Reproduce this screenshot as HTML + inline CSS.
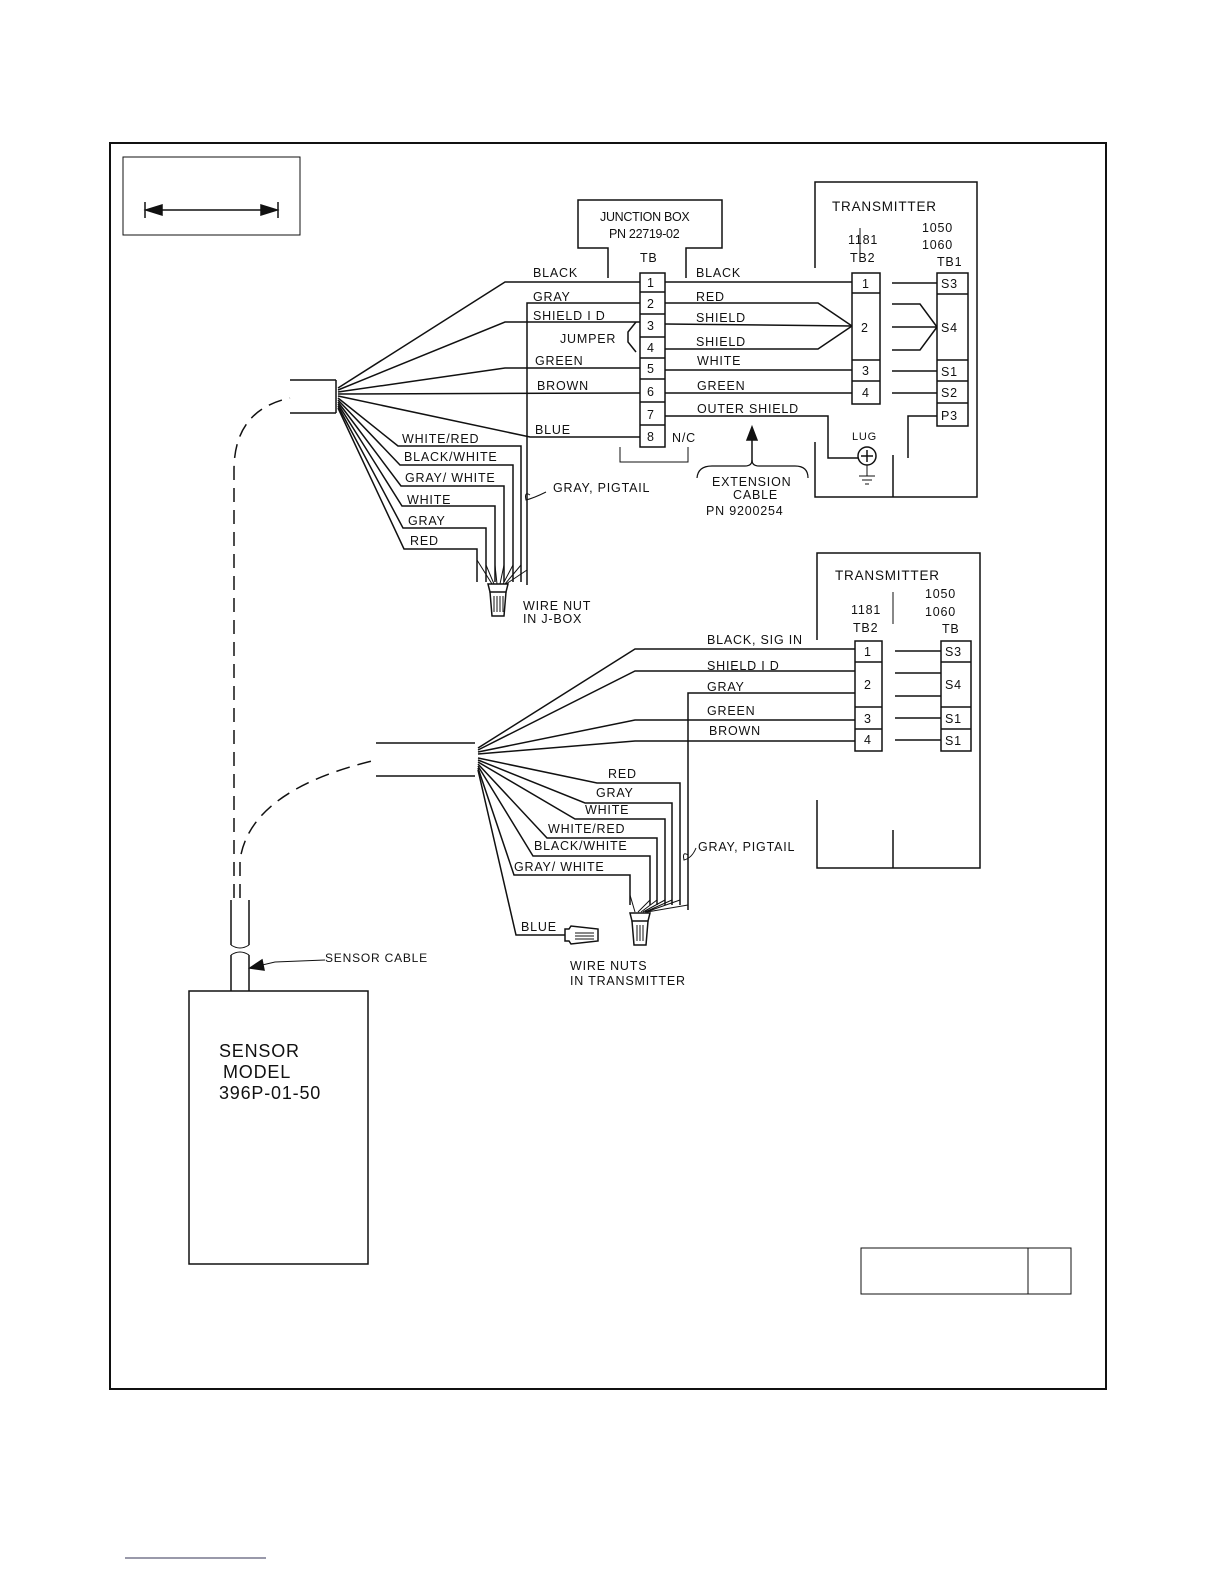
<!DOCTYPE html>
<html><head><meta charset="utf-8"><style>
html,body{margin:0;padding:0;background:#fff}
svg{display:block}
text{font-family:"Liberation Sans",sans-serif;font-size:12.5px;fill:#111;letter-spacing:0.8px}
</style></head><body>
<svg width="1224" height="1584" viewBox="0 0 1224 1584" xmlns="http://www.w3.org/2000/svg">
<g fill="none" stroke="#111" stroke-width="1.5">
<rect x="110" y="143" width="996" height="1246" stroke-width="2"/>
<rect x="123" y="157" width="177" height="78" stroke-width="1"/>
<line x1="150" y1="210" x2="273" y2="210"/><line x1="145" y1="202" x2="145" y2="218"/><line x1="278" y1="202" x2="278" y2="218"/>
<path d="M146 210 L162 205 L162 215 Z M277 210 L261 205 L261 215 Z" fill="#111"/>
<rect x="861" y="1248" width="210" height="46" stroke-width="1"/><line x1="1028" y1="1248" x2="1028" y2="1294" stroke-width="1"/>
<line x1="125" y1="1558" x2="266" y2="1558" stroke="#335" stroke-width="1"/>
<!-- sensor -->
<rect x="189" y="991" width="179" height="273"/>
<line x1="231" y1="955" x2="231" y2="991"/><line x1="249" y1="955" x2="249" y2="991"/>
<line x1="231" y1="900" x2="231" y2="945"/><line x1="249" y1="900" x2="249" y2="945"/>
<path d="M231 945 q9 6 18 0 M231 955 q9 -6 18 0" stroke-width="1"/>
<path d="M325 960 L275 962 L258 966" stroke-width="1"/>
<path d="M250 968 L262 960 L264 970 Z" fill="#111"/>
<path d="M234 898 L234 470 Q234 410 290 398" stroke-dasharray="14 8"/>
<path d="M240 898 L240 860 Q250 790 376 760" stroke-dasharray="14 8"/>
<!-- top cable -->
<line x1="290" y1="380" x2="336" y2="380"/><line x1="290" y1="413" x2="336" y2="413"/>
<line x1="336" y1="380" x2="336" y2="413"/>
<!-- left wires top -->
<polyline points="338,388 505,282 640,282"/>
<polyline points="338,390 505,322 640,322"/>
<polyline points="338,392 505,368 640,368"/>
<polyline points="338,394 640,393"/>
<polyline points="338,396 530,437 640,437"/>
<polyline points="527,585 527,303 640,303"/>
<polyline points="338,398 398,446 521,446 521,582"/>
<polyline points="338,400 400,465 513,465 513,582"/>
<polyline points="338,402 401,486 504,486 504,582"/>
<polyline points="338,404 402,506 495,506 495,582"/>
<polyline points="338,406 403,528 486,528 486,582"/>
<polyline points="338,408 404,549 477,549 477,582"/>
<path d="M477 560 L492 584 M486 565 L494 584 M495 565 L497 584 M504 565 L500 584 M513 565 L503 584 M521 565 L505 584 M527 570 L506 584" stroke-width="1"/>
<path d="M488 584 L508 584 L506 592 L490 592 Z"/>
<path d="M490 592 L492 616 L504 616 L506 592"/>
<path d="M494 596 V612 M497 596 V612 M500 596 V612 M503 596 V612" stroke-width="1"/>
<path d="M530 495 q-6 -4 -4 5 q8 -2 20 -8" stroke-width="1"/>
<!-- junction box -->
<polyline points="608,278 608,248 578,248 578,200 722,200 722,248 686,248 686,278"/>
<rect x="640" y="273" width="25" height="174"/>
<path d="M640 292H665M640 314H665M640 337H665M640 358H665M640 379H665M640 402H665M640 425H665"/>
<path d="M636 322 L628 332 L628 342 L636 352" />
<polyline points="620,447 620,462 688,462 688,447" stroke-width="1"/>
<!-- right of JB -->
<line x1="665" y1="282" x2="852" y2="282"/>
<polyline points="665,303 818,303 852,326"/>
<line x1="665" y1="324" x2="852" y2="326"/>
<polyline points="665,349 818,349 852,326"/>
<line x1="665" y1="370" x2="852" y2="370"/>
<line x1="665" y1="393" x2="852" y2="393"/>
<polyline points="665,416 828,416 828,458 858,458"/>
<line x1="752" y1="462" x2="752" y2="435"/>
<path d="M747 440 L752 427 L757 440 Z" fill="#111"/>
<path d="M697 478 Q698 466 712 466 L745 466 Q752 466 752 460 Q752 466 759 466 L795 466 Q808 466 808 478" stroke-width="1.2"/>
<!-- transmitter 1 -->
<polyline points="815,268 815,182 977,182 977,497 815,497 815,442"/>
<line x1="893" y1="455" x2="893" y2="497"/>
<line x1="860" y1="228" x2="860" y2="260" stroke-width="1"/>
<rect x="852" y="273" width="28" height="131"/>
<path d="M852 293H880M852 360H880M852 381H880"/>
<rect x="937" y="273" width="31" height="153"/>
<path d="M937 294H968M937 360H968M937 381H968M937 403H968"/>
<path d="M892 283H937 M892 304H920L937 327 M892 327H937 M892 350H920L937 327 M892 371H937 M892 393H937"/>
<polyline points="908,458 908,416 937,416"/>
<circle cx="867" cy="456" r="9"/>
<path d="M867 450V462M861 456H873" stroke-width="1.5"/>
<path d="M867 465V476M859 476H875M862 480H872M865 484H869" stroke-width="1"/>
<!-- bottom cable -->
<line x1="376" y1="743" x2="475" y2="743"/><line x1="376" y1="776" x2="475" y2="776"/>
<polyline points="478,748 635,649 855,649"/>
<polyline points="478,750 635,671 855,671"/>
<polyline points="478,752 635,720 855,720"/>
<polyline points="478,754 635,741 855,741"/>
<polyline points="688,910 688,693 855,693"/>
<polyline points="478,758 597,783 680,783 680,905"/>
<polyline points="478,760 585,803 672,803 672,905"/>
<polyline points="478,762 575,819 665,819 665,905"/>
<polyline points="478,764 547,838 657,838 657,905"/>
<polyline points="478,766 533,856 650,856 650,905"/>
<polyline points="478,768 514,875 630,875 630,905"/>
<polyline points="478,770 516,935 565,935"/>
<path d="M630 895 L635 912 M650 900 L638 912 M657 900 L641 912 M665 900 L643 912 M672 900 L645 912 M680 900 L646 912 M688 905 L647 912" stroke-width="1"/>
<path d="M630 913 L650 913 L648 921 L632 921 Z"/>
<path d="M632 921 L634 945 L646 945 L648 921"/>
<path d="M637 925V941M640 925V941M643 925V941" stroke-width="1"/>
<path d="M565 929 L569 929 L571 926 L598 929 L598 941 L571 944 L569 941 L565 941 Z"/>
<path d="M575 933H594M575 936H594M575 939H594" stroke-width="1"/>
<path d="M688 855 q-6 -4 -4 5 q8 -2 12 -12" stroke-width="1"/>
<!-- transmitter 2 -->
<polyline points="817,640 817,553 980,553 980,868 817,868 817,800"/>
<line x1="893" y1="830" x2="893" y2="868"/>
<line x1="893" y1="592" x2="893" y2="624" stroke-width="1"/>
<rect x="855" y="641" width="27" height="110"/>
<path d="M855 662H882M855 707H882M855 729H882"/>
<rect x="941" y="641" width="30" height="110"/>
<path d="M941 662H971M941 707H971M941 729H971"/>
<path d="M895 651H941M895 673H941M895 696H941M895 718H941M895 740H941"/>
</g>
<!-- text -->
<text x="219" y="1057" style="font-size:18px">SENSOR</text>
<text x="223" y="1078" style="font-size:18px">MODEL</text>
<text x="219" y="1099" style="font-size:18px">396P-01-50</text>
<text x="325" y="962" style="font-size:12px">SENSOR CABLE</text>
<text x="600" y="221" style="font-size:12.5px;letter-spacing:-0.3px">JUNCTION BOX</text>
<text x="609" y="238" style="font-size:12.5px;letter-spacing:-0.3px">PN 22719-02</text>
<text x="640" y="262">TB</text>
<text x="533" y="277">BLACK</text>
<text x="533" y="301">GRAY</text>
<text x="533" y="320">SHIELD I D</text>
<text x="560" y="343">JUMPER</text>
<text x="535" y="365">GREEN</text>
<text x="537" y="390">BROWN</text>
<text x="535" y="434">BLUE</text>
<text x="402" y="443">WHITE/RED</text>
<text x="404" y="461">BLACK/WHITE</text>
<text x="405" y="482">GRAY/ WHITE</text>
<text x="407" y="504">WHITE</text>
<text x="408" y="525">GRAY</text>
<text x="410" y="545">RED</text>
<text x="553" y="492">GRAY, PIGTAIL</text>
<text x="523" y="610">WIRE NUT</text>
<text x="523" y="623">IN J-BOX</text>
<g style="font-size:12px"><text x="647" y="287">1</text><text x="647" y="308">2</text><text x="647" y="330">3</text><text x="647" y="352">4</text><text x="647" y="373">5</text><text x="647" y="396">6</text><text x="647" y="419">7</text><text x="647" y="441">8</text></g>
<text x="672" y="442">N/C</text>
<text x="696" y="277">BLACK</text>
<text x="696" y="301">RED</text>
<text x="696" y="322">SHIELD</text>
<text x="696" y="346">SHIELD</text>
<text x="697" y="365">WHITE</text>
<text x="697" y="390">GREEN</text>
<text x="697" y="413">OUTER SHIELD</text>
<text x="712" y="486">EXTENSION</text>
<text x="733" y="499">CABLE</text>
<text x="706" y="515">PN 9200254</text>
<text x="832" y="211" style="font-size:13.5px">TRANSMITTER</text>
<text x="848" y="244">1181</text>
<text x="850" y="262">TB2</text>
<text x="922" y="232">1050</text>
<text x="922" y="249">1060</text>
<text x="937" y="266">TB1</text>
<g style="font-size:12px"><text x="862" y="288">1</text><text x="861" y="332">2</text><text x="862" y="375">3</text><text x="862" y="397">4</text>
<text x="941" y="288">S3</text><text x="941" y="332">S4</text><text x="941" y="376">S1</text><text x="941" y="397">S2</text><text x="941" y="420">P3</text></g>
<text x="852" y="440" style="font-size:11px">LUG</text>
<text x="707" y="644">BLACK, SIG IN</text>
<text x="707" y="670">SHIELD I D</text>
<text x="707" y="691">GRAY</text>
<text x="707" y="715">GREEN</text>
<text x="709" y="735">BROWN</text>
<text x="608" y="778">RED</text>
<text x="596" y="797">GRAY</text>
<text x="585" y="814">WHITE</text>
<text x="548" y="833">WHITE/RED</text>
<text x="534" y="850">BLACK/WHITE</text>
<text x="514" y="871">GRAY/ WHITE</text>
<text x="521" y="931">BLUE</text>
<text x="698" y="851">GRAY, PIGTAIL</text>
<text x="570" y="970">WIRE NUTS</text>
<text x="570" y="985">IN TRANSMITTER</text>
<text x="835" y="580" style="font-size:13.5px">TRANSMITTER</text>
<text x="925" y="598">1050</text>
<text x="925" y="616">1060</text>
<text x="851" y="614">1181</text>
<text x="853" y="632">TB2</text>
<text x="942" y="633">TB</text>
<g style="font-size:12px"><text x="864" y="656">1</text><text x="864" y="689">2</text><text x="864" y="723">3</text><text x="864" y="744">4</text>
<text x="945" y="656">S3</text><text x="945" y="689">S4</text><text x="945" y="723">S1</text><text x="945" y="745">S1</text></g>
</svg>
</body></html>
